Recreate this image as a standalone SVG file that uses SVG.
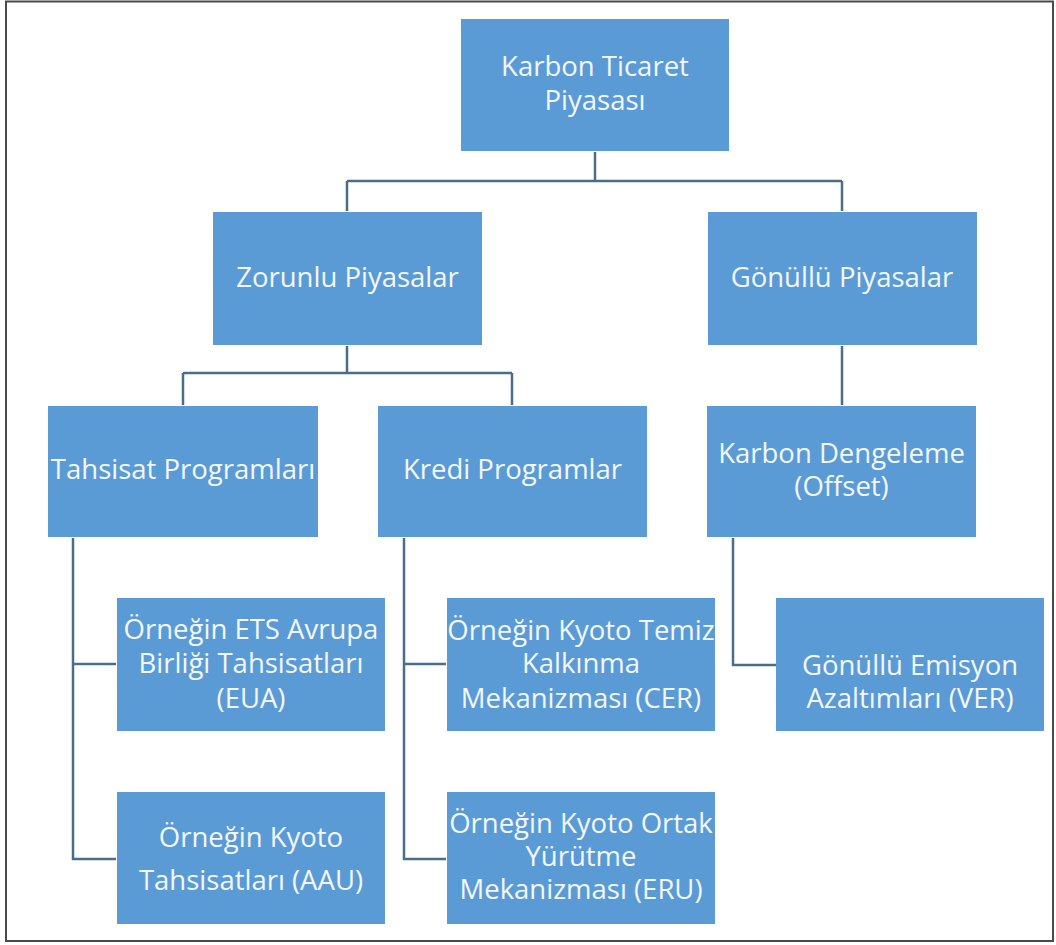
<svg xmlns="http://www.w3.org/2000/svg" width="1056" height="945" viewBox="0 0 1056 945">
<style>
.box{fill:#5b9bd5;}
.t{font-family:"Open Sans","Noto Sans","Liberation Sans",sans-serif;font-size:27.5px;fill:#f3f7fc;text-anchor:middle;}
.c{fill:none;stroke:#4b6d8c;stroke-width:2.5;}
</style>
<rect x="0" y="0" width="1056" height="945" fill="#ffffff"/>
<rect x="6" y="1.5" width="1047" height="939.5" fill="none" stroke="#4a4a4a" stroke-width="2"/>
<g id="connectors">
<path class="c" d="M595,152 V181 M347,181 H842 M347,181 V211 M842,181 V211"/>
<path class="c" d="M347,346 V373 M183,373 H512 M183,373 V405 M512,373 V405"/>
<path class="c" d="M842,346 V405"/>
<path class="c" d="M73,538 V859 H116 M73,664 H116"/>
<path class="c" d="M404,538 V859 H446 M404,664 H446"/>
<path class="c" d="M733,538 V665 H776"/>
</g>
<g id="n-karbon-ticaret">
<rect class="box" x="461" y="19" width="268" height="132"/>
<text class="t" x="595" y="76">Karbon Ticaret</text>
<text class="t" x="595" y="110">Piyasası</text>
</g>
<g id="n-zorunlu">
<rect class="box" x="213" y="212" width="269" height="133"/>
<text class="t" x="347.5" y="287">Zorunlu Piyasalar</text>
</g>
<g id="n-gonullu">
<rect class="box" x="708" y="212" width="269" height="133"/>
<text class="t" x="842" y="287">Gönüllü Piyasalar</text>
</g>
<g id="n-tahsisat">
<rect class="box" x="48" y="406" width="270" height="131"/>
<text class="t" x="183" y="479">Tahsisat Programları</text>
</g>
<g id="n-kredi">
<rect class="box" x="378" y="406" width="269" height="131"/>
<text class="t" x="512.5" y="479">Kredi Programlar</text>
</g>
<g id="n-dengeleme">
<rect class="box" x="707" y="406" width="269" height="131"/>
<text class="t" x="841.5" y="463">Karbon Dengeleme</text>
<text class="t" x="841.5" y="496">(Offset)</text>
</g>
<g id="n-eua">
<rect class="box" x="117" y="598" width="268" height="133"/>
<text class="t" x="251" y="639">Örneğin ETS Avrupa</text>
<text class="t" x="251" y="673">Birliği Tahsisatları</text>
<text class="t" x="251" y="708">(EUA)</text>
</g>
<g id="n-aau">
<rect class="box" x="117" y="792" width="268" height="132"/>
<text class="t" x="251" y="847">Örneğin Kyoto</text>
<text class="t" x="251" y="890">Tahsisatları (AAU)</text>
</g>
<g id="n-cer">
<rect class="box" x="447" y="598" width="268" height="133"/>
<text class="t" x="581" y="640">Örneğin Kyoto Temiz</text>
<text class="t" x="581" y="673">Kalkınma</text>
<text class="t" x="581" y="708">Mekanizması (CER)</text>
</g>
<g id="n-eru">
<rect class="box" x="447" y="792" width="268" height="132"/>
<text class="t" x="581" y="833">Örneğin Kyoto Ortak</text>
<text class="t" x="581" y="866">Yürütme</text>
<text class="t" x="581" y="899">Mekanizması (ERU)</text>
</g>
<g id="n-ver">
<rect class="box" x="776" y="598" width="268" height="133"/>
<text class="t" x="910" y="675">Gönüllü Emisyon</text>
<text class="t" x="910" y="708">Azaltımları (VER)</text>
</g>
</svg>
